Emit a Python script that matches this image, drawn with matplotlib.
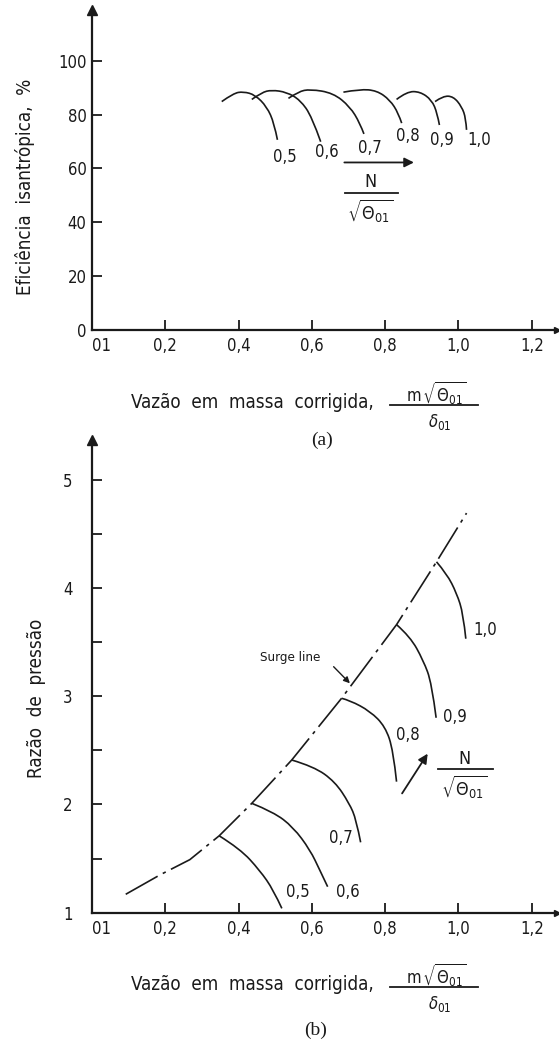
import matplotlib
matplotlib.use("Agg")
import matplotlib.pyplot as plt
from matplotlib.lines import Line2D
from matplotlib.path import Path
from matplotlib.patches import PathPatch

W, H = 559, 1046

plt.rcParams['font.family'] = ['DejaVu Sans']
plt.rcParams['font.stretch'] = 'condensed'
plt.rcParams['mathtext.fontset'] = 'dejavusans'

# ---- data: (a) isentropic efficiency vs corrected mass flow ----
speed_labels = ['0,5', '0,6', '0,7', '0,8', '0,9', '1,0']
eff_flow = [
    [0.354, 0.386, 0.413, 0.445, 0.477, 0.497, 0.506],
    [0.436, 0.463, 0.490, 0.531, 0.568, 0.600, 0.624],
    [0.536, 0.563, 0.595, 0.658, 0.704, 0.731, 0.742],
    [0.686, 0.731, 0.777, 0.813, 0.836, 0.845],
    [0.831, 0.859, 0.895, 0.927, 0.942, 0.948],
    [0.936, 0.958, 0.986, 1.009, 1.020, 1.022],
]
eff_value = [
    [84.8, 87.9, 88.5, 87.3, 82.9, 76.8, 70.6],
    [85.6, 88.2, 89.1, 88.3, 85.4, 79.2, 69.9],
    [86.0, 88.5, 89.4, 88.0, 82.9, 76.8, 72.8],
    [88.3, 89.4, 88.9, 85.4, 80.5, 76.8],
    [85.6, 88.5, 88.5, 85.4, 80.5, 76.1],
    [84.8, 86.9, 86.7, 82.9, 78.6, 74.3],
]

# ---- data: (b) pressure ratio vs corrected mass flow ----
pr_flow = [
    [0.347, 0.404, 0.458, 0.495, 0.518],
    [0.436, 0.495, 0.549, 0.595, 0.622, 0.643],
    [0.545, 0.605, 0.663, 0.702, 0.721, 0.733],
    [0.681, 0.704, 0.759, 0.800, 0.822, 0.831],
    [0.831, 0.868, 0.904, 0.927, 0.939],
    [0.940, 0.968, 0.995, 1.013, 1.020],
]
pr_value = [
    [1.71, 1.59, 1.39, 1.21, 1.04],
    [2.01, 1.93, 1.79, 1.58, 1.39, 1.24],
    [2.41, 2.35, 2.21, 2.01, 1.86, 1.65],
    [2.98, 2.96, 2.86, 2.72, 2.50, 2.21],
    [3.66, 3.55, 3.33, 3.12, 2.80],
    [4.24, 4.13, 3.95, 3.76, 3.53],
]
surge_flow = [0.092, 0.186, 0.267, 0.347, 0.436, 0.545, 0.681, 0.831, 0.940, 1.022]
surge_pr = [1.17, 1.35, 1.49, 1.71, 2.01, 2.41, 2.98, 3.66, 4.24, 4.69]

x_ticks = [0, 0.2, 0.4, 0.6, 0.8, 1.0, 1.2]
x_ticklabels = ['01', '0,2', '0,4', '0,6', '0,8', '1,0', '1,2']
eff_ticks = [0, 20, 40, 60, 80, 100]
pr_ticks = [1, 1.5, 2, 2.5, 3, 3.5, 4, 4.5, 5]
pr_ticklabels = ['1', '', '2', '', '3', '', '4', '', '5']

# label placement (data coords)
eff_label_pos = [(0.527, 64.4), (0.640, 66.2), (0.759, 67.6), (0.862, 72.0), (0.954, 70.6), (1.056, 70.6)]
pr_label_pos = [(0.561, 1.19), (0.697, 1.19), (0.678, 1.69), (0.863, 2.64), (0.99, 2.81), (1.072, 3.61)]

INK = '#1a1a1a'
FS = 12


def fig_xy(px, py):
    return px / W, 1 - py / H


def smooth_curve(ax, xs, ys, **kw):
    # quadratic bezier through the read points (they act as control points)
    pts = list(zip(xs, ys))
    verts = [pts[0]]
    codes = [Path.MOVETO]
    for i in range(1, len(pts) - 1):
        nxt = pts[i + 1] if i == len(pts) - 2 else (
            (pts[i][0] + pts[i + 1][0]) / 2, (pts[i][1] + pts[i + 1][1]) / 2)
        verts += [pts[i], nxt]
        codes += [Path.CURVE3, Path.CURVE3]
    ax.add_patch(PathPatch(Path(verts, codes), fill=False, edgecolor=INK, **kw))


def setup_axis(ax, xmax, ylo, yhi, ypad):
    ax.set_xlim(0, xmax)
    ax.set_ylim(ylo, yhi)
    for s in ('top', 'right'):
        ax.spines[s].set_visible(False)
    for s in ('left', 'bottom'):
        ax.spines[s].set_linewidth(1.6)
        ax.spines[s].set_color(INK)
    ax.set_xticks(x_ticks)
    ax.set_xticklabels(x_ticklabels)
    # the "01" label sits just right of the origin
    ax.get_xticklabels()[0].set_horizontalalignment('left')
    ax.tick_params(axis='both', direction='in', length=7.5, width=1.3, color=INK,
                   labelsize=FS, labelcolor=INK)
    ax.tick_params(axis='x', pad=5)
    ax.tick_params(axis='y', pad=ypad)
    ax.plot([0], [1], marker='^', ms=7, color=INK, transform=ax.transAxes, clip_on=False)
    ax.plot([1], [0], marker='>', ms=5, color=INK, transform=ax.transAxes, clip_on=False)
    ax.patch.set_alpha(0)


def x_label(py):
    fig.text(*fig_xy(252, py + 8), 'Vazão  em  massa  corrigida,', ha='center', va='center',
             fontsize=13.5, color=INK)
    fig.text(*fig_xy(436, py - 2), r'$\mathrm{m}\,\sqrt{\Theta_{01}}$', ha='center', va='center',
             fontsize=12, color=INK)
    x0, y0 = fig_xy(390, py + 10)
    x1, _ = fig_xy(478, py + 10)
    fig.add_artist(Line2D([x0, x1], [y0, y0], color=INK, lw=1.3))
    fig.text(*fig_xy(440, py + 27), r'$\delta_{01}$', ha='center', va='center',
             fontsize=12, color=INK)


fig = plt.figure(figsize=(W / 100, H / 100), dpi=100)
fig.patch.set_facecolor('white')

# ---------------- (a) ----------------
ax1 = fig.add_axes([92 / W, 1 - 330 / H, 464.7 / W, 320 / H])
setup_axis(ax1, 1.268, 0, 118.8, 4)
ax1.set_yticks(eff_ticks)
ax1.set_yticklabels([str(t) for t in eff_ticks])

for xs, ys in zip(eff_flow, eff_value):
    smooth_curve(ax1, xs, ys, lw=1.2)
for lab, (lx, ly) in zip(speed_labels, eff_label_pos):
    ax1.text(lx, ly, lab, ha='center', va='center', fontsize=FS, color=INK)

ax1.annotate('', xy=(0.886, 62.2), xytext=(0.681, 62.2),
             arrowprops=dict(arrowstyle='-|>', color=INK, lw=1.3, mutation_scale=14))
ax1.text(0.759, 55.1, 'N', ha='center', va='center', fontsize=13, color=INK)
ax1.plot([0.69, 0.835], [50.9, 50.9], color=INK, lw=1.3)
ax1.text(0.759, 44.0, r'$\sqrt{\Theta_{01}}$', ha='center', va='center', fontsize=13, color=INK)

fig.text(*fig_xy(25, 187), 'Eficiência  isantrópica,  %', rotation=90, ha='center', va='center',
         fontsize=13.5, color=INK)
x_label(395)
fig.text(*fig_xy(322, 440), '(a)', ha='center', va='center', fontsize=14,
         family='Liberation Serif', color=INK)

# ---------------- (b) ----------------
ax2 = fig.add_axes([92 / W, 1 - 912.7 / H, 464.7 / W, 472.7 / H])
setup_axis(ax2, 1.268, 1, 5.365, 14)
ax2.set_yticks(pr_ticks)
ax2.set_yticklabels(pr_ticklabels)

ax2.plot(surge_flow, surge_pr, color=INK, lw=1.2, dashes=(22, 3.5, 2, 3.5))
for xs, ys in zip(pr_flow, pr_value):
    smooth_curve(ax2, xs, ys, lw=1.2)
for lab, (lx, ly) in zip(speed_labels, pr_label_pos):
    ax2.text(lx, ly, lab, ha='center', va='center', fontsize=FS, color=INK)

ax2.text(0.54, 3.36, 'Surge line', ha='center', va='center', fontsize=9.5, color=INK)
ax2.annotate('', xy=(0.709, 3.10), xytext=(0.654, 3.29),
             arrowprops=dict(arrowstyle='-|>', color=INK, lw=1.0, mutation_scale=9))

ax2.annotate('', xy=(0.920, 2.49), xytext=(0.842, 2.08),
             arrowprops=dict(arrowstyle='-|>', color=INK, lw=1.3, mutation_scale=14))
ax2.text(1.016, 2.42, 'N', ha='center', va='center', fontsize=13, color=INK)
ax2.plot([0.944, 1.094], [2.33, 2.33], color=INK, lw=1.3)
ax2.text(1.016, 2.16, r'$\sqrt{\Theta_{01}}$', ha='center', va='center', fontsize=13, color=INK)

fig.text(*fig_xy(37, 698), 'Razão  de  pressão', rotation=90, ha='center', va='center',
         fontsize=13.5, color=INK)
x_label(977)
fig.text(*fig_xy(316, 1030), '(b)', ha='center', va='center', fontsize=14,
         family='Liberation Serif', color=INK)

fig.savefig('out.png', dpi=100)
